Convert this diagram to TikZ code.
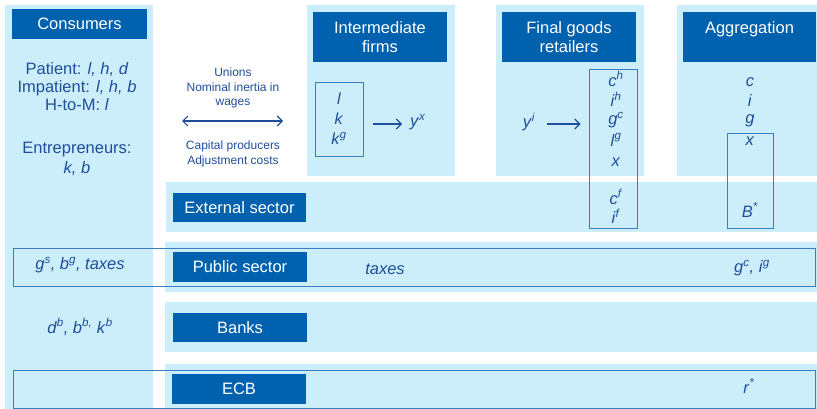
\documentclass[tikz,border=0pt]{standalone}
\usepackage{fontspec}
\setmainfont{Liberation Sans}
\usetikzlibrary{arrows.meta,positioning}
\definecolor{panelblue}{HTML}{CCEEFA}
\definecolor{headblue}{HTML}{0061AE}
\definecolor{inkblue}{HTML}{1F4E9C}
\definecolor{frameblue}{HTML}{3C7DC2}
\tikzset{
	panel/.style={fill=panelblue, draw=none},
	header/.style={fill=headblue, text=white, align=center, inner sep=0pt,
		font=\fontsize{16.5}{19}\selectfont},
	var/.style={text=inkblue, align=center, inner sep=1pt,
		font=\fontsize{16.5}{18}\selectfont},
	note/.style={text=inkblue, align=center, inner sep=0pt,
		font=\fontsize{12}{14.5}\selectfont},
	framebox/.style={draw=frameblue, line width=0.9pt},
	barb/.tip={Straight Barb[length=5pt,width=10pt,line width=1.2pt]},
	flow/.style={draw=inkblue, line width=1.1pt, -barb},
}
\newcommand{\vr}[2]{\textit{#1}\textsuperscript{\textit{#2}}}

\begin{document}
\begin{tikzpicture}[x=1pt, y=-1pt]
	\useasboundingbox (0,0) rectangle (817,409);
	% light panels
	\fill[panel] (5,5) rectangle (153,409);
	\fill[panel] (307,5) rectangle (455,176);
	\fill[panel] (496,5) rectangle (644,176);
	\fill[panel] (677,5) rectangle (817,176);
	\fill[panel] (166,182) rectangle (817,232);
	\fill[panel] (165,242) rectangle (817,292);
	\fill[panel] (165,302) rectangle (817,352);
	\fill[panel] (165,364) rectangle (817,409);
	% outlined rows
	\draw[framebox] (13,248) rectangle (815,286);
	\draw[framebox] (13,370) -- (13,408) -- (815,408) -- (815,370) -- cycle;

	% headers
	\node[header, minimum width=135, minimum height=30] (cons) at (79.5,24) {Consumers};
	\node[header, minimum width=134, minimum height=50] (inter) at (380,37) {Intermediate\\firms};
	\node[header, minimum width=134, minimum height=50] (final) at (569,37) {Final goods\\retailers};
	\node[header, minimum width=133, minimum height=50] (aggr) at (749.5,37) {Aggregation\\\phantom{A}};
	\node[header, minimum width=133, minimum height=29] (ext) at (239.5,207.5) {External sector};
	\node[header, minimum width=134, minimum height=30] (pub) at (240,267) {Public sector};
	\node[header, minimum width=134, minimum height=29] (bank) at (240,327.5) {Banks};
	\node[header, minimum width=134, minimum height=30] (ecb) at (239,389) {ECB};

	% consumers
	\node[var] (types) at (77,87) {Patient: \textit{l, h, d}\\Impatient: \textit{l, h, b}\\H-to-M: \textit{l}};
	\node[var, font=\fontsize{16.5}{20}\selectfont] (entr) at (77,159) {Entrepreneurs:\\\textit{k, b}};
	\node[var] (gov) at (80,265) {\vr{g}{s}\textit{, }\vr{b}{g}\textit{, taxes}};
	\node[var] (bnk) at (80,327) {\vr{d}{b}\textit{, }\vr{b}{b,} \vr{k}{b}};

	% unions and capital producers
	\node[note] (unions) at (233,88) {Unions\\Nominal inertia in\\wages};
	\node[note] (capprod) at (233,154) {Capital producers\\Adjustment costs};
	\coordinate (wl) at (182,121);
	\coordinate (wr) at (283,121);
	\draw[flow, barb-barb] (wl) -- (wr);

	% intermediate firms
	\node[var, framebox, minimum width=48, minimum height=74, font=\fontsize{16}{20}\selectfont] (inputs) at (339,119) {\textit{l}\\\textit{k}\\\vr{k}{g}};
	\node[var] (yx) at (418,122) {\vr{y}{x}};
	\draw[flow, shorten <=10pt] (inputs.east |- 0,124) -- (402,124);

	% final goods retailers
	\node[framebox, minimum width=48, minimum height=159, inner sep=0pt] (fgbox) at (613,148.5) {};
	\node[var] (yi) at (529,122) {\vr{y}{i}};
	\foreach \txt/\yy/\nm in {{\vr{c}{h}}/79/ch, {\vr{i}{h}}/99/ih, {\vr{g}{c}}/120/gc,
		{\vr{l}{g}}/140/lg, {\textit{x}}/162/xf, {\vr{c}{f}}/197/cf, {\vr{i}{f}}/216/if}
		\node[var] (\nm) at (616,\yy) {\txt};
	\draw[flow, shorten <=11pt, shorten >=8pt] (yi.east |- 0,124) -- (fgbox.west |- 0,124);

	% aggregation
	\node[framebox, minimum width=46, minimum height=95, inner sep=0pt] (xbox) at (750,180.5) {};
	\foreach \txt/\yy/\nm in {{\textit{c}}/82/ca, {\textit{i}}/101/ia, {\textit{g}}/121/ga,
		{\textit{x}}/141/xa, {\vr{B}{*}}/210/bstar}
		\node[var] (\nm) at (750,\yy) {\txt};

	% public sector and ECB
	\node[var] (tax) at (385,269) {\textit{taxes}};
	\node[var] (gcig) at (752,268) {\vr{g}{c}\textit{, }\vr{i}{g}};
	\node[var] (rstar) at (749,386) {\vr{r}{*}};
\end{tikzpicture}
\end{document}
